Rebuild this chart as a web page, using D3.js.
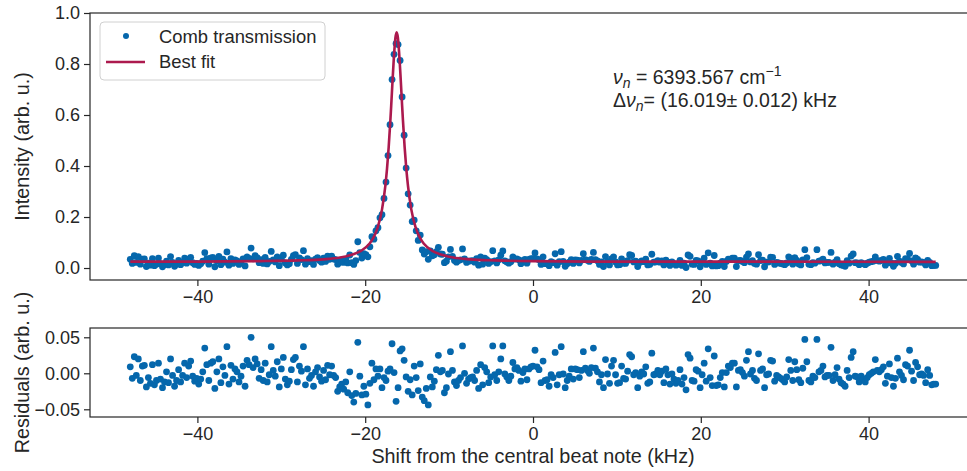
<!DOCTYPE html>
<html lang="en">
<head>
  <meta charset="UTF-8">
  <title>Comb transmission</title>
  <style>
    body { margin: 0; background: #fff; }
    svg { display: block; font-family: "Liberation Sans", Arial, sans-serif; }
    .tick text { font-size: 18px; fill: #262626; }
    .tick line { stroke: #262626; stroke-width: 1.2; }
    .frame { fill: none; stroke: #262626; stroke-width: 1.2; }
    .dot { fill: #0567AC; }
    .fit { fill: none; stroke: #AC1A4E; stroke-width: 2.6; }
    .label { font-size: 19.8px; fill: #262626; }
  </style>
</head>
<body>
  <script src="https://cdn.jsdelivr.net/npm/d3@7"></script>
  <script>
    // sampling grid (kHz)
    const shiftStart = -48
    const shiftStep = 0.24

    // measured intensity (arb. u.)
    const intensity = [
      0.034, 0.018, 0.048, 0.022, 0.045, 0.015, 0.035, 0.036, 0.006, 0.019, 0.011, 0.037, 0.009, 0.015, 0.039, 0.017, 0.005, 0.013, 0.027, 0.012,
      0.045, 0.022, 0.007, 0.015, 0.030, 0.013, 0.022, 0.039, 0.019, 0.035, 0.042, 0.021, 0.014, 0.018, 0.010, 0.017, 0.027, 0.060, 0.037, 0.015,
      0.040, 0.042, 0.005, 0.028, 0.046, 0.013, 0.035, 0.023, 0.063, 0.011, 0.037, 0.018, 0.032, 0.028, 0.014, 0.022, 0.036, 0.008, 0.044, 0.038,
      0.078, 0.036, 0.048, 0.041, 0.021, 0.033, 0.018, 0.042, 0.016, 0.026, 0.065, 0.032, 0.024, 0.044, 0.009, 0.034, 0.050, 0.020, 0.012, 0.017,
      0.034, 0.048, 0.052, 0.018, 0.040, 0.033, 0.068, 0.015, 0.037, 0.025, 0.029, 0.014, 0.035, 0.041, 0.029, 0.023, 0.039, 0.026, 0.047, 0.034,
      0.047, 0.035, 0.033, 0.015, 0.022, 0.028, 0.022, 0.034, 0.020, 0.051, 0.021, 0.014, 0.029, 0.103, 0.060, 0.039, 0.056, 0.052, 0.044, 0.083,
      0.123, 0.113, 0.146, 0.158, 0.197, 0.209, 0.273, 0.337, 0.441, 0.562, 0.739, 0.838, 0.880, 0.876, 0.814, 0.671, 0.521, 0.392, 0.291, 0.247,
      0.182, 0.188, 0.146, 0.108, 0.129, 0.071, 0.055, 0.064, 0.034, 0.067, 0.048, 0.052, 0.064, 0.081, 0.055, 0.054, 0.021, 0.027, 0.044, 0.073,
      0.046, 0.029, 0.023, 0.029, 0.032, 0.075, 0.036, 0.022, 0.027, 0.028, 0.029, 0.023, 0.037, 0.011, 0.044, 0.015, 0.039, 0.033, 0.018, 0.025,
      0.068, 0.028, 0.020, 0.032, 0.050, 0.067, 0.028, 0.024, 0.019, 0.025, 0.044, 0.035, 0.036, 0.032, 0.017, 0.029, 0.034, 0.019, 0.034, 0.037,
      0.037, 0.059, 0.036, 0.032, 0.014, 0.044, 0.017, 0.018, 0.009, 0.025, 0.021, 0.056, 0.011, 0.025, 0.064, 0.026, 0.007, 0.017, 0.023, 0.033,
      0.018, 0.032, 0.031, 0.020, 0.030, 0.056, 0.033, 0.030, 0.026, 0.034, 0.061, 0.033, 0.028, 0.014, 0.024, 0.006, 0.045, 0.025, 0.012, 0.036,
      0.044, 0.024, 0.012, 0.013, 0.036, 0.019, 0.018, 0.029, 0.052, 0.049, 0.024, 0.027, 0.006, 0.022, 0.028, 0.025, 0.035, 0.012, 0.014, 0.054,
      0.023, 0.024, 0.029, 0.023, 0.028, 0.012, 0.031, 0.023, 0.010, 0.024, 0.017, 0.011, 0.015, 0.030, 0.010, 0.019, 0.002, 0.051, 0.046, 0.015,
      0.014, 0.030, 0.028, 0.005, 0.023, 0.039, 0.014, 0.059, 0.019, 0.008, 0.049, 0.008, 0.009, 0.019, 0.026, 0.006, 0.026, 0.035, 0.033, 0.039,
      0.039, 0.006, 0.029, 0.030, 0.026, 0.021, 0.043, 0.055, 0.024, 0.029, 0.018, 0.015, 0.052, 0.029, 0.031, 0.005, 0.023, 0.024, 0.043, 0.042,
      0.014, 0.022, 0.020, 0.018, 0.016, 0.013, 0.020, 0.044, 0.029, 0.015, 0.041, 0.030, 0.016, 0.012, 0.032, 0.072, 0.041, 0.015, 0.013, 0.021,
      0.019, 0.072, 0.027, 0.029, 0.035, 0.020, 0.022, 0.022, 0.061, 0.015, 0.023, 0.033, 0.017, 0.012, 0.010, 0.007, 0.029, 0.019, 0.047, 0.055,
      0.021, 0.020, 0.013, 0.021, 0.017, 0.013, 0.019, 0.023, 0.025, 0.027, 0.044, 0.029, 0.027, 0.030, 0.034, 0.011, 0.021, 0.038, 0.019, 0.007,
      0.018, 0.046, 0.027, 0.022, 0.016, 0.037, 0.035, 0.057, 0.028, 0.015, 0.040, 0.034, 0.023, 0.024, 0.022, 0.012, 0.030, 0.022, 0.009, 0.010, 0.010
    ]

    // residuals (arb. u.)
    const residual = [
      0.009, -0.007, 0.023, -0.003, 0.020, -0.010, 0.010, 0.011, -0.019, -0.006, -0.014, 0.012, -0.016, -0.010, 0.014, -0.008, -0.020, -0.012, 0.002, -0.013,
      0.020, -0.003, -0.018, -0.010, 0.005, -0.012, -0.003, 0.014, -0.006, 0.010, 0.017, -0.004, -0.011, -0.007, -0.015, -0.008, 0.002, 0.035, 0.012, -0.010,
      0.014, 0.016, -0.021, 0.002, 0.020, -0.013, 0.009, -0.003, 0.037, -0.015, 0.011, -0.008, 0.006, 0.002, -0.012, -0.004, 0.010, -0.018, 0.018, 0.012,
      0.050, 0.008, 0.020, 0.013, -0.007, 0.005, -0.010, 0.014, -0.012, -0.002, 0.037, 0.004, -0.004, 0.016, -0.019, 0.006, 0.022, -0.008, -0.016, -0.011,
      0.005, 0.019, 0.022, -0.012, 0.010, 0.003, 0.037, -0.016, 0.006, -0.007, -0.003, -0.018, 0.002, 0.008, -0.005, -0.011, 0.004, -0.009, 0.011, -0.002,
      0.010, -0.003, -0.006, -0.025, -0.019, -0.015, -0.022, -0.012, -0.027, 0.002, -0.031, -0.040, -0.028, 0.043, -0.004, -0.030, -0.018, -0.029, -0.044, -0.014,
      0.014, -0.009, 0.006, -0.004, 0.006, -0.020, -0.006, -0.010, 0.003, 0.006, 0.041, 0.001, -0.039, -0.020, 0.031, 0.034, 0.018, -0.005, -0.025, -0.009,
      -0.030, 0.010, -0.006, -0.024, 0.013, -0.033, -0.038, -0.021, -0.044, -0.005, -0.019, -0.011, 0.005, 0.025, 0.002, 0.004, -0.027, -0.020, -0.001, 0.030,
      0.004, -0.012, -0.017, -0.010, -0.006, 0.038, 0.000, -0.014, -0.008, -0.006, -0.005, -0.010, 0.004, -0.021, 0.012, -0.016, 0.008, 0.002, -0.013, -0.005,
      0.038, -0.002, -0.010, 0.002, 0.020, 0.038, -0.001, -0.005, -0.010, -0.004, 0.015, 0.006, 0.008, 0.004, -0.011, 0.001, 0.006, -0.009, 0.006, 0.009,
      0.010, 0.032, 0.009, 0.005, -0.013, 0.017, -0.010, -0.009, -0.018, -0.002, -0.006, 0.029, -0.016, -0.002, 0.037, -0.001, -0.020, -0.010, -0.004, 0.006,
      -0.008, 0.006, 0.005, -0.006, 0.004, 0.030, 0.007, 0.004, 0.000, 0.008, 0.035, 0.007, 0.002, -0.012, -0.002, -0.020, 0.019, -0.001, -0.014, 0.010,
      0.018, -0.002, -0.014, -0.013, 0.010, -0.007, -0.008, 0.003, 0.026, 0.023, -0.002, 0.001, -0.020, -0.004, 0.002, -0.001, 0.009, -0.014, -0.012, 0.028,
      -0.002, -0.001, 0.004, -0.002, 0.003, -0.013, 0.006, -0.002, -0.015, -0.001, -0.008, -0.014, -0.010, 0.005, -0.015, -0.006, -0.023, 0.026, 0.021, -0.010,
      -0.011, 0.005, 0.003, -0.020, -0.002, 0.014, -0.011, 0.034, -0.006, -0.017, 0.024, -0.017, -0.016, -0.006, 0.001, -0.019, 0.001, 0.010, 0.008, 0.014,
      0.014, -0.019, 0.004, 0.005, 0.001, -0.004, 0.018, 0.030, -0.001, 0.004, -0.007, -0.010, 0.027, 0.004, 0.006, -0.020, -0.002, -0.001, 0.018, 0.017,
      -0.011, -0.003, -0.005, -0.007, -0.009, -0.012, -0.005, 0.019, 0.004, -0.010, 0.016, 0.005, -0.009, -0.013, 0.007, 0.047, 0.016, -0.010, -0.012, -0.004,
      -0.006, 0.047, 0.002, 0.004, 0.010, -0.005, -0.003, -0.003, 0.036, -0.010, -0.002, 0.008, -0.008, -0.013, -0.015, -0.018, 0.004, -0.006, 0.022, 0.030,
      -0.004, -0.005, -0.012, -0.004, -0.008, -0.012, -0.006, -0.002, 0.000, 0.002, 0.019, 0.004, 0.002, 0.005, 0.009, -0.014, -0.004, 0.013, -0.006, -0.018,
      -0.007, 0.021, 0.002, -0.003, -0.009, 0.012, 0.010, 0.032, 0.003, -0.010, 0.015, 0.009, -0.002, -0.001, -0.003, -0.013, 0.005, -0.003, -0.016, -0.015, -0.015
    ]

    // best fit curve, read at a few points
    const fitShift = [-48, -40, -32.5, -28, -25, -23, -21.5, -20.5, -19.5, -19, -18.5, -18, -17.6, -17.4, -17.2, -17, -16.9, -16.75, -16.6, -16.4,
      -16.25, -16.1, -15.9, -15.75, -15.6, -15.5, -15.3, -15.1, -14.9, -14.5, -14, -13.5, -13, -12, -11, -9.5, -7.5, -4.5, 0, 10, 25, 48]
    const fitIntensity = [0.025, 0.025, 0.027, 0.030, 0.034, 0.041, 0.053, 0.067, 0.095, 0.120, 0.160, 0.229, 0.322, 0.389, 0.474, 0.579, 0.637, 0.729, 0.816, 0.902,
      0.924, 0.902, 0.816, 0.729, 0.637, 0.579, 0.474, 0.389, 0.322, 0.229, 0.160, 0.120, 0.095, 0.067, 0.053, 0.041, 0.034, 0.030, 0.027, 0.025, 0.025, 0.024]

    const xTicks = [-40, -20, 0, 20, 40]
    const topYTicks = [0, 0.2, 0.4, 0.6, 0.8, 1.0]
    const resYTicks = [-0.05, 0, 0.05]

    const shift = intensity.map((d, i) => shiftStart + i * shiftStep)

    const W = 967, H = 471
    const left = 90, right = 976
    const svg = d3.select('body').append('svg').attr('width', W).attr('height', H)

    let x = d3.scaleLinear().domain([-52.8, 52.8]).range([left, right])
    let yTop = d3.scaleLinear().domain([-0.047, 1.0]).range([280, 13])
    let yRes = d3.scaleLinear().domain([-0.0607, 0.0629]).range([417, 328])

    function drawAxes(y, yTicks, yFmt, bottom, top) {
      let gx = svg.append('g').attr('transform', `translate(0, ${bottom})`)
        .call(d3.axisBottom(x).tickValues(xTicks).tickFormat(d3.format('d')).tickSize(6).tickPadding(4))
      gx.select('.domain').remove()
      let gy = svg.append('g').attr('transform', `translate(${left}, 0)`)
        .call(d3.axisLeft(y).tickValues(yTicks).tickFormat(d3.format(yFmt)).tickSize(6).tickPadding(4))
      gy.select('.domain').remove()
      svg.selectAll('.tick text').attr('font-family', null)
      svg.append('rect').attr('class', 'frame')
        .attr('x', left).attr('y', top)
        .attr('width', right - left).attr('height', bottom - top)
    }

    drawAxes(yTop, topYTicks, '.1f', 280, 13)
    drawAxes(yRes, resYTicks, '.2f', 417, 328)

    // top panel
    svg.append('g').selectAll('circle')
      .data(intensity)
      .enter()
      .append('circle')
      .attr('class', 'dot')
      .attr('cx', (d, i) => x(shift[i]))
      .attr('cy', d => yTop(d))
      .attr('r', 3.4)

    let line = d3.line()
      .x((d, i) => x(fitShift[i]))
      .y(d => yTop(d))
      .curve(d3.curveMonotoneX)
    svg.append('path').attr('class', 'fit').attr('d', line(fitIntensity))

    // residual panel
    svg.append('g').selectAll('circle')
      .data(residual)
      .enter()
      .append('circle')
      .attr('class', 'dot')
      .attr('cx', (d, i) => x(shift[i]))
      .attr('cy', d => yRes(d))
      .attr('r', 3.4)

    // axis labels
    svg.append('text').attr('class', 'label')
      .attr('transform', 'translate(22, 146.5) rotate(-90)')
      .attr('text-anchor', 'middle').attr('dominant-baseline', 'central')
      .text('Intensity (arb. u.)')
    svg.append('text').attr('class', 'label')
      .attr('transform', 'translate(22, 372.5) rotate(-90)')
      .attr('text-anchor', 'middle').attr('dominant-baseline', 'central')
      .text('Residuals (arb. u.)')
    svg.append('text').attr('class', 'label')
      .attr('x', x(0)).attr('y', 463)
      .attr('text-anchor', 'middle')
      .text('Shift from the central beat note (kHz)')

    // legend
    let lg = svg.append('g')
    lg.append('rect')
      .attr('x', 100).attr('y', 22).attr('width', 225).attr('height', 58).attr('rx', 4)
      .attr('fill', '#fff').attr('fill-opacity', 0.8).attr('stroke', '#d0d0d0')
    lg.append('circle').attr('class', 'dot').attr('cx', 126).attr('cy', 36).attr('r', 3)
    lg.append('line').attr('x1', 106).attr('x2', 145).attr('y1', 62).attr('y2', 62)
      .attr('stroke', '#AC1A4E').attr('stroke-width', 2.6)
    lg.append('text').attr('x', 159).attr('y', 43).attr('font-size', 18.4).attr('fill', '#262626').text('Comb transmission')
    lg.append('text').attr('x', 159).attr('y', 68).attr('font-size', 18.4).attr('fill', '#262626').text('Best fit')

    // annotation
    let t1 = svg.append('text').attr('x', 613).attr('y', 84).attr('font-size', 19.5).attr('fill', '#262626')
    t1.append('tspan').attr('font-style', 'italic').text('ν')
    t1.append('tspan').attr('font-style', 'italic').attr('font-size', 14).attr('dy', 4).text('n')
    t1.append('tspan').attr('dy', -4).text(' = 6393.567 cm')
    t1.append('tspan').attr('font-size', 14).attr('dy', -8).text('−1')
    let t2 = svg.append('text').attr('x', 613).attr('y', 107).attr('font-size', 19.5).attr('fill', '#262626')
    t2.append('tspan').text('Δ')
    t2.append('tspan').attr('font-style', 'italic').text('ν')
    t2.append('tspan').attr('font-style', 'italic').attr('font-size', 14).attr('dy', 4).text('n')
    t2.append('tspan').attr('dy', -4).text('= (16.019± 0.012) kHz')
  </script>
</body>
</html>
